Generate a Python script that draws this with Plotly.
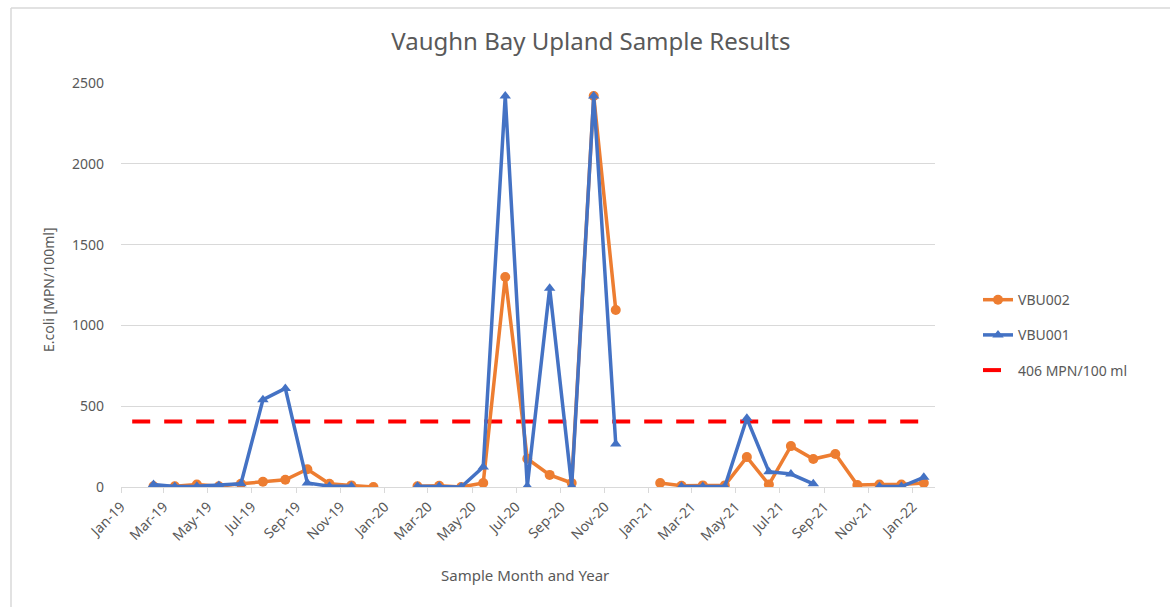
import plotly.graph_objects as go

months = [
    "2019-01", "2019-02", "2019-03", "2019-04", "2019-05", "2019-06", "2019-07", "2019-08",
    "2019-09", "2019-10", "2019-11", "2019-12", "2020-01", "2020-02", "2020-03", "2020-04",
    "2020-05", "2020-06", "2020-07", "2020-08", "2020-09", "2020-10", "2020-11", "2020-12",
    "2021-01", "2021-02", "2021-03", "2021-04", "2021-05", "2021-06", "2021-07", "2021-08",
    "2021-09", "2021-10", "2021-11", "2021-12", "2022-01",
]

vbu002 = [
    None, 5, 5, 15, 5, 20, 33, 45,
    110, 20, 10, 0, None, 5, 8, 0,
    25, 1300, 175, 75, 25, 2420, 1095, None,
    25, 8, 10, 10, 185, 15, 253, 173,
    204, 12, 15, 15, 25,
]

vbu001 = [
    None, 15, 3, 5, 10, 20, 540, 610,
    25, 5, 5, None, None, 5, 5, 0,
    124, 2420, 5, 1230, 5, 2420, 266, None,
    None, 3, 3, 3, 425, 95, 80, 20,
    None, None, 3, 3, 60,
]

threshold = 406
threshold_values = [threshold] * len(months)

tick_months = months[::2]

title_text = "Vaughn Bay Upland Sample Results"
y_title = "E.coli [MPN/100ml]"
x_title = "Sample Month and Year"

FONT = "Noto Sans"
GRAY = "#595959"
GRID = "#D9D9D9"

fig = go.Figure()

fig.add_trace(go.Scatter(
    x=months, y=threshold_values, name="406 MPN/100 ml", mode="lines",
    xperiod="M1", xperiodalignment="middle",
    line=dict(color="#FF0000", width=4, dash="18px,14px"),
    legendrank=3, legendgroup="c",
))
fig.add_trace(go.Scatter(
    x=months, y=vbu002, name="VBU002", mode="lines+markers",
    xperiod="M1", xperiodalignment="middle",
    line=dict(color="#ED7D31", width=3.5),
    marker=dict(symbol="circle", size=10, color="#ED7D31"),
    legendrank=1, legendgroup="a",
))
fig.add_trace(go.Scatter(
    x=months, y=vbu001, name="VBU001", mode="lines+markers",
    xperiod="M1", xperiodalignment="middle",
    line=dict(color="#4472C4", width=3.5),
    marker=dict(symbol="triangle-up", size=10, color="#4472C4"),
    legendrank=2, legendgroup="b",
))

fig.update_layout(
    width=1170, height=607,
    margin=dict(l=121, r=235, t=83, b=120),
    paper_bgcolor="white", plot_bgcolor="white",
    font=dict(family=FONT, color=GRAY, size=13),
    showlegend=True,
    title=dict(text=title_text, x=0.505, xanchor="center", y=1 - 42 / 607, yanchor="middle",
               font=dict(size=24, color=GRAY, family=FONT)),
    legend=dict(x=(978 - 121) / 814, xanchor="left", y=0.376, yanchor="middle",
                font=dict(size=14, color=GRAY, family=FONT),
                traceorder="grouped", tracegroupgap=14, bgcolor="rgba(0,0,0,0)"),
    xaxis=dict(
        type="date", range=["2019-01-01", "2022-02-01"],
        tickvals=tick_months, tickformat="%b-%y", tickangle=-45,
        showgrid=False, showline=True, linecolor=GRID, linewidth=1,
        ticks="outside", ticklen=5, tickcolor=GRID,
        tickfont=dict(size=14, color=GRAY, family=FONT),
        zeroline=False,
    ),
    yaxis=dict(
        range=[0, 2500], dtick=500, showgrid=True, gridcolor=GRID, gridwidth=1,
        zeroline=False, showline=False, ticks="", ticklabelstandoff=16,
        tickfont=dict(size=14, color=GRAY, family=FONT),
    ),
    annotations=[
        dict(text=y_title, xref="paper", yref="paper", x=(48 - 121) / 814, y=(487 - 290) / 404,
             textangle=-90, showarrow=False, xanchor="center", yanchor="middle",
             font=dict(size=14, color=GRAY, family=FONT)),
        dict(text=x_title, xref="paper", yref="paper", x=(525 - 121) / 814, y=(487 - 575) / 404,
             showarrow=False, xanchor="center", yanchor="middle",
             font=dict(size=15, color=GRAY, family=FONT)),
    ],
    shapes=[
        dict(type="line", xref="paper", yref="paper", x0=(11 - 121) / 814, x1=(11 - 121) / 814,
             y0=(487 - 607) / 404, y1=(487 - 8) / 404, line=dict(color=GRID, width=1.5)),
        dict(type="line", xref="paper", yref="paper", x0=(11 - 121) / 814, x1=(1170 - 121) / 814,
             y0=(487 - 8) / 404, y1=(487 - 8) / 404, line=dict(color=GRID, width=1.5)),
    ],
)

fig.write_html("out.html", config={"displayModeBar": False},
               post_script="document.body.style.margin='0';")
